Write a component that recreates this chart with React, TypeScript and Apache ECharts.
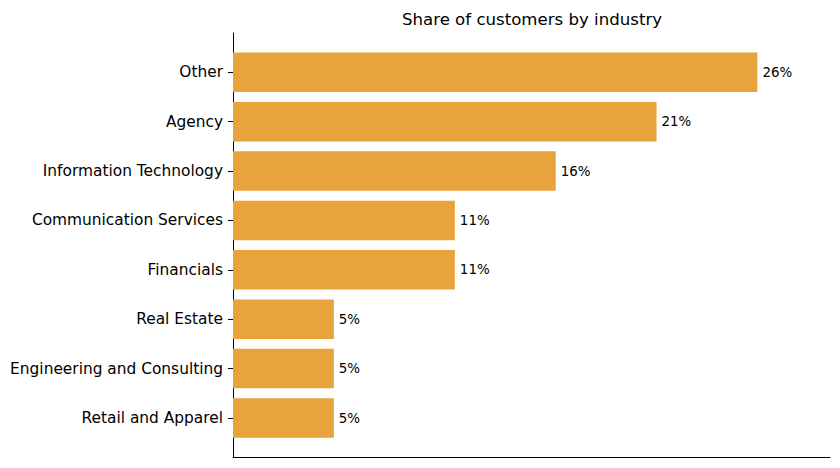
import React, { useEffect, useRef } from "react";
import * as echarts from "echarts";

// Industries, top to bottom, and their share of customers (%)
const industries: string[] = [
  "Other",
  "Agency",
  "Information Technology",
  "Communication Services",
  "Financials",
  "Real Estate",
  "Engineering and Consulting",
  "Retail and Apparel",
];
const shares: number[] = [26, 21, 16, 11, 11, 5, 5, 5];

const BAR_COLOR = "#e8a33d";
const FONT = "DejaVu Sans";
const X_MAX = 29.6;

export default function App() {
  const ref = useRef<HTMLDivElement>(null);

  useEffect(() => {
    if (!ref.current) return;
    const chart = echarts.init(ref.current, undefined, { renderer: "svg" });
    chart.setOption({
      animation: false,
      backgroundColor: "#ffffff",
      title: {
        text: "Share of customers by industry",
        left: 527,
        top: 6,
        textAlign: "center",
        textStyle: { fontFamily: FONT, fontSize: 16.6, fontWeight: "normal", color: "#000" },
      },
      grid: [
        // frame with the left and bottom spines
        { left: 233, right: 10, top: 33, bottom: 11 },
        // bars area, inset like the padded category range
        { left: 233, right: 10, top: 47.6, bottom: 25.3 },
      ],
      xAxis: [
        {
          gridIndex: 0,
          type: "value",
          min: 0,
          max: X_MAX,
          axisLine: { show: true, lineStyle: { color: "#000", width: 1 } },
          axisTick: { show: false },
          axisLabel: { show: false },
          splitLine: { show: false },
        },
        {
          gridIndex: 1,
          type: "value",
          min: 0,
          max: X_MAX,
          show: false,
        },
      ],
      yAxis: [
        {
          gridIndex: 0,
          type: "value",
          min: 0,
          max: 1,
          axisLine: { show: true, lineStyle: { color: "#000", width: 1 } },
          axisTick: { show: false },
          axisLabel: { show: false },
          splitLine: { show: false },
        },
        {
          gridIndex: 1,
          type: "category",
          data: industries,
          inverse: true,
          axisLine: { show: false },
          axisTick: {
            show: true,
            alignWithLabel: true,
            length: 5,
            lineStyle: { color: "#000", width: 1 },
          },
          axisLabel: {
            margin: 10,
            fontFamily: FONT,
            fontSize: 15.4,
            color: "#000",
          },
          splitLine: { show: false },
        },
      ],
      series: [
        {
          type: "bar",
          xAxisIndex: 1,
          yAxisIndex: 1,
          data: shares,
          barWidth: "80%",
          itemStyle: { color: BAR_COLOR },
          label: {
            show: true,
            position: "right",
            distance: 5,
            formatter: "{c}%",
            fontFamily: FONT,
            fontSize: 13.4,
            color: "#000",
          },
        },
      ],
    });
    return () => chart.dispose();
  }, []);

  return (
    <div
      ref={ref}
      style={{ width: 840, height: 468, position: "absolute", left: 0, top: 0 }}
    />
  );
}
